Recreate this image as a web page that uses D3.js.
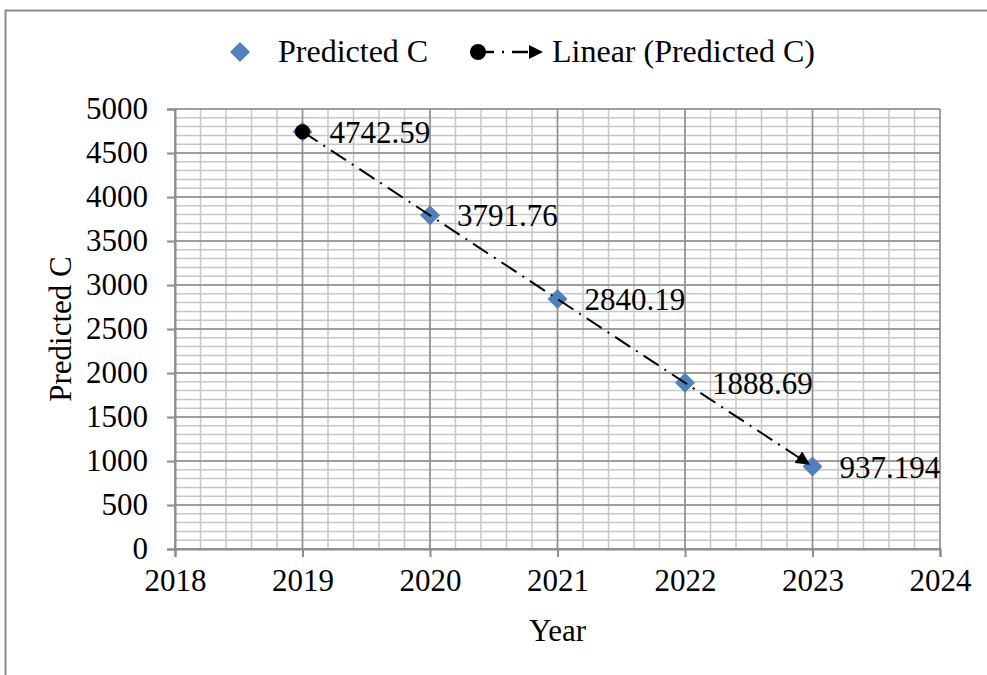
<!DOCTYPE html>
<html>
<head>
<meta charset="utf-8">
<script src="https://cdn.jsdelivr.net/npm/d3@7"></script>
<style>
  html, body { margin: 0; padding: 0; background: #fff; }
  svg { display: block; }
  text { font-family: "Liberation Serif", "Times New Roman", serif; fill: #000; }
</style>
</head>
<body>
<svg id="chart" width="987" height="675"></svg>
<script>
// ---- data ----
const years = [2019, 2020, 2021, 2022, 2023];
const predictedC = [4742.59, 3791.76, 2840.19, 1888.69, 937.194];
const valueLabels = ["4742.59", "3791.76", "2840.19", "1888.69", "937.194"];
const xTicks = [2018, 2019, 2020, 2021, 2022, 2023, 2024];
const yTicks = [0, 500, 1000, 1500, 2000, 2500, 3000, 3500, 4000, 4500, 5000];
const seriesName = "Predicted C";
const trendName = "Linear (Predicted C)";
const xTitle = "Year";
const yTitle = "Predicted C";

// ---- layout ----
const svg = d3.select("#chart");
const L = 175, R = 940, T = 109, B = 549;
const x = d3.scaleLinear().domain([2018, 2024]).range([L, R]);
const y = d3.scaleLinear().domain([0, 5000]).range([B, T]);
const FS = 31;

// chart border (top and left edges visible)
svg.append("rect").attr("x", 5.5).attr("y", 10.5).attr("width", 1000).attr("height", 700)
  .attr("fill", "none").attr("stroke", "#8c8c8c").attr("stroke-width", 2);

// minor gridlines
const minorX = d3.range(2018, 2024.001, 0.2);
const minorY = d3.range(0, 5000.1, 100);
const grid = svg.append("g");
grid.selectAll("line.mx").data(minorX).join("line")
  .attr("x1", d => x(d)).attr("x2", d => x(d)).attr("y1", T).attr("y2", B)
  .attr("stroke", "#c6c6c6").attr("stroke-width", 1.5);
grid.selectAll("line.my").data(minorY).join("line")
  .attr("x1", L).attr("x2", R).attr("y1", d => y(d)).attr("y2", d => y(d))
  .attr("stroke", "#c6c6c6").attr("stroke-width", 1.5);
// major gridlines
grid.selectAll("line.Mx").data(xTicks).join("line")
  .attr("x1", d => x(d)).attr("x2", d => x(d)).attr("y1", T).attr("y2", B)
  .attr("stroke", "#8c8c8c").attr("stroke-width", 1.5);
grid.selectAll("line.My").data(yTicks).join("line")
  .attr("x1", L).attr("x2", R).attr("y1", d => y(d)).attr("y2", d => y(d))
  .attr("stroke", "#8c8c8c").attr("stroke-width", 1.5);

// axes
const xAxis = svg.append("g").attr("transform", `translate(0,${B})`)
  .call(d3.axisBottom(x).tickValues(xTicks).tickFormat(d3.format("d")).tickSize(8).tickPadding(12));
const yAxis = svg.append("g").attr("transform", `translate(${L},0)`)
  .call(d3.axisLeft(y).tickValues(yTicks).tickFormat(d3.format("d")).tickSize(8).tickPadding(19));
[xAxis, yAxis].forEach(a => {
  a.select(".domain").attr("stroke", "#8c8c8c").attr("stroke-width", 2);
  a.selectAll(".tick line").attr("stroke", "#8c8c8c").attr("stroke-width", 2);
  a.selectAll(".tick text").attr("font-family", "Liberation Serif, serif").attr("font-size", FS).attr("fill", "#000");
});
xAxis.selectAll(".tick text").attr("dy", "0.71em");

// axis titles
svg.append("text").attr("x", (L + R) / 2).attr("y", 641).attr("text-anchor", "middle")
  .attr("font-size", FS).text(xTitle);
svg.append("text").attr("transform", `translate(71,${(T + B) / 2}) rotate(-90)`)
  .attr("text-anchor", "middle").attr("font-size", FS).text(yTitle);

// trendline (least squares fit of the series)
const n = years.length;
const mx = d3.mean(years), my = d3.mean(predictedC);
const slope = d3.sum(years.map((v, i) => (v - mx) * (predictedC[i] - my))) / d3.sum(years.map(v => (v - mx) ** 2));
const icpt = my - slope * mx;
const fit = v => icpt + slope * v;

const defs = svg.append("defs");
defs.append("marker").attr("id", "arrow").attr("markerUnits", "userSpaceOnUse")
  .attr("viewBox", "0 0 14 14").attr("refX", 14).attr("refY", 7)
  .attr("markerWidth", 14).attr("markerHeight", 14).attr("orient", "auto")
  .append("path").attr("d", "M0,0 L14,7 L0,14 Z").attr("fill", "#000");

const x0 = years[0], x1 = years[n - 1];
const p0 = [x(x0), y(fit(x0))], p1 = [x(x1), y(fit(x1))];
const ang = Math.atan2(p1[1] - p0[1], p1[0] - p0[0]);
const pEnd = [p1[0] - 3 * Math.cos(ang), p1[1] - 3 * Math.sin(ang)];

// series markers (diamonds)
const diamond = (cx, cy, r) => `M${cx},${cy - r} L${cx + r},${cy} L${cx},${cy + r} L${cx - r},${cy} Z`;
svg.append("g").selectAll("path").data(years).join("path")
  .attr("d", (d, i) => diamond(x(d), y(predictedC[i]), 10))
  .attr("fill", "#4F81BD");

svg.append("path").attr("d", d3.line()([p0, pEnd]))
  .attr("stroke", "#000").attr("stroke-width", 2).attr("fill", "none")
  .attr("stroke-dasharray", "18,7,2,7").attr("marker-end", "url(#arrow)");
svg.append("circle").attr("cx", p0[0]).attr("cy", p0[1]).attr("r", 7.5).attr("fill", "#000");

// data labels
svg.append("g").selectAll("text").data(years).join("text")
  .attr("x", d => x(d) + 27).attr("y", (d, i) => y(predictedC[i]) + 11)
  .attr("font-size", FS).text((d, i) => valueLabels[i]);

// legend
const LFS = 32;
const lg = svg.append("g");
lg.append("path").attr("d", diamond(240, 52, 10)).attr("fill", "#4F81BD");
lg.append("text").attr("x", 278).attr("y", 62).attr("font-size", LFS).text(seriesName);
lg.append("line").attr("x1", 478).attr("x2", 543).attr("y1", 52).attr("y2", 52)
  .attr("stroke", "#000").attr("stroke-width", 2.5).attr("stroke-dasharray", "16,8,2,8")
  .attr("marker-end", "url(#arrow)");
lg.append("circle").attr("cx", 478).attr("cy", 52).attr("r", 8).attr("fill", "#000");
lg.append("text").attr("x", 552).attr("y", 62).attr("font-size", LFS).text(trendName);
</script>
</body>
</html>
